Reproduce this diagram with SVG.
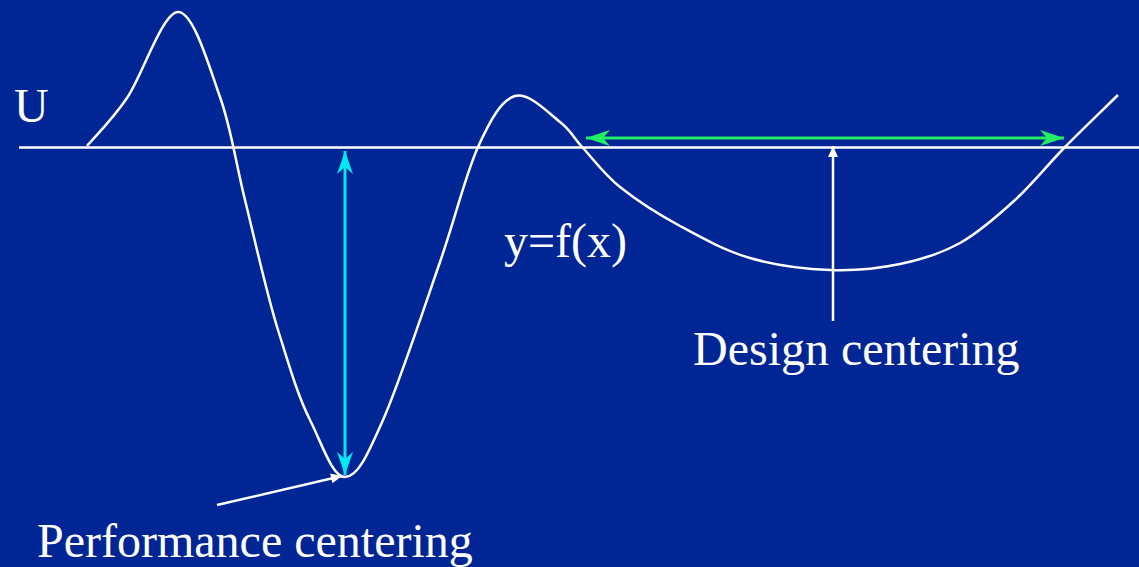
<svg xmlns="http://www.w3.org/2000/svg" width="1139" height="567" viewBox="0 0 1139 567">
<style>
.bg{fill:#002594}
.w{stroke:#ffffff;stroke-width:2.5;fill:none}
.cy{stroke:#00E8F0;stroke-width:3;fill:none}
.gr{stroke:#22EE66;stroke-width:3;fill:none}
.t{font-family:"Liberation Serif","Times New Roman",serif;font-size:48px;fill:#ffffff}
</style>
<defs>
<marker id="stc" markerUnits="userSpaceOnUse" orient="auto-start-reverse" markerWidth="30" markerHeight="20" refX="0" refY="0" viewBox="-24 -10 26 20" overflow="visible">
<path d="M0,0 L-23,-8 L-16,0 L-23,8 Z" fill="#00E8F0"/>
</marker>
<marker id="stg" markerUnits="userSpaceOnUse" orient="auto-start-reverse" markerWidth="30" markerHeight="20" refX="0" refY="0" viewBox="-24 -10 26 20" overflow="visible">
<path d="M0,0 L-24,-8 L-17,0 L-24,8 Z" fill="#22EE66"/>
</marker>
<marker id="tw" markerUnits="userSpaceOnUse" orient="auto" markerWidth="14" markerHeight="12" refX="0" refY="0" viewBox="-12 -6 14 12" overflow="visible">
<path d="M0,0 L-11,-5 L-11,5 Z" fill="#ffffff"/>
</marker>
</defs>
<rect class="bg" x="0" y="0" width="1139" height="567"/>
<g id="axis">
<line class="w" x1="19" y1="147.5" x2="1139" y2="147.5"/>
</g>
<g id="curve">
<path class="w" d="M87,146 C93.7,138 111.8,120.3 127,98 C142.2,75.7 162.5,12.2 178,12 C193.5,11.8 208.8,65.7 220,97 C231.2,128.3 235.3,160.7 245,200 C254.7,239.3 266.5,293.3 278,330 C289.5,366.7 297.7,395.5 310,420 C322.3,444.5 332.3,477 345,477 C357.7,477 367.2,455.8 383,420 C398.8,384.2 424.2,307.5 440,262 C455.8,216.5 465.5,174.7 478,147 C490.5,119.3 501.3,100.2 515,96 C528.7,91.8 548.7,113.3 560,122 C571.3,130.7 573,137.2 583,148 C593,158.8 603.8,174 620,187 C636.2,200 658.3,214.2 680,226 C701.7,237.8 725,250.7 750,258 C775,265.3 805,269 830,270 C855,271 878.3,268.5 900,264 C921.7,259.5 940.8,253.7 960,243 C979.2,232.3 997.5,216 1015,200 C1032.5,184 1047.8,164.5 1065,147 C1082.2,129.5 1109.2,103.7 1118,95"/>
</g>
<g id="connectors">
<line class="cy" x1="345" y1="151" x2="345" y2="475" marker-start="url(#stc)" marker-end="url(#stc)"/>
<line class="gr" x1="586" y1="138" x2="1064" y2="138" marker-start="url(#stg)" marker-end="url(#stg)"/>
<line class="w" x1="833" y1="321" x2="833" y2="146" marker-end="url(#tw)"/>
<line class="w" x1="217" y1="505" x2="342" y2="476" marker-end="url(#tw)"/>
</g>
<g id="label-U"><text class="t" x="14" y="122">U</text></g>
<g id="label-f"><text class="t" x="504" y="257">y=f(x)</text></g>
<g id="label-design"><text class="t" x="693" y="365">Design centering</text></g>
<g id="label-performance"><text class="t" x="37" y="557">Performance centering</text></g>
</svg>
